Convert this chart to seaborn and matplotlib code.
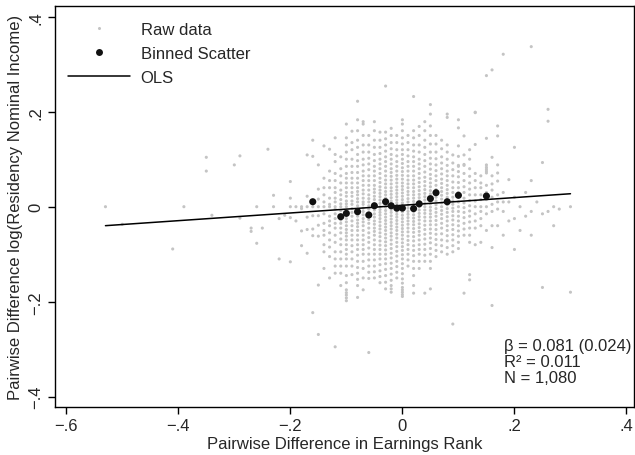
import numpy as np
import pandas as pd
import matplotlib
matplotlib.use("Agg")
import matplotlib.pyplot as plt
import seaborn as sns
from matplotlib.lines import Line2D

sns.set_theme(style="white")
plt.rcParams["font.family"] = ["Liberation Sans", "DejaVu Sans"]

# Raw pairwise differences: earnings-rank difference (hundredths) -> income differences (thousandths)
raw_columns = {
    -53: [0], -50: [-37], -41: [-89], -39: [0], -35: [104, 75], -34: [-18],
    -30: [88], -29: [107, -24], -27: [-45, -52], -26: [0, -77], -25: [-45],
    -24: [121], -23: [24, 0], -22: [-25, -110], -21: [-18],
    -20: [53, 18, 0, -23, -116], -19: [0, -30], -18: [0, -4, -51, -82],
    -17: [109, 22, 0, -22, -48, -98], -16: [140, 106, 0, -19, -47, -61, -223],
    -15: [88, 37, 16, 0, -19, -39, -62, -165, -269],
    -14: [128, 60, 40, 25, 10, 0, -15, -35, -50, -60, -80, -95, -130],
    -13: [121, 75, 55, 40, 18, 5, 0, -20, -30, -40, -55, -70, -85, -105, -150],
    -12: [145, 110, 95, 70, 55, 40, 30, 18, 10, 0, -5, -15, -25, -35, -45, -60, -75,
          -95, -110, -125, -140, -295],
    -11: [105, 80, 65, 50, 35, 25, 15, 6, 0, -8, -20, -28, -35, -45, -55, -68, -80,
          -95, -110, -125, -140, -166],
    -10: [174, 145, 130, 115, 100, 85, 70, 60, 50, 40, 30, 22, 12, 6, 0, -10, -18,
          -25, -32, -40, -48, -55, -62, -70, -80, -90, -100, -110, -125, -145, -160,
          -175, -181, -186, -192, -198],
    -9: [159, 135, 120, 100, 85, 72, 60, 50, 40, 30, 22, 12, 5, -4, -12, -20, -30,
         -40, -50, -60, -70, -82, -95, -110, -125, -143],
    -8: [222, 183, 160, 140, 125, 110, 97, 85, 72, 60, 50, 40, 32, 25, 17, 10, 2, -5,
         -12, -20, -28, -35, -42, -50, -60, -70, -80, -90, -102, -115, -128, -140,
         -153, -166, -191],
    -7: [179, 174, 150, 130, 115, 100, 88, 75, 65, 55, 45, 35, 27, 18, 10, 5, -3,
         -10, -17, -25, -32, -40, -50, -60, -70, -80, -90, -100, -115, -130, -150, -175],
    -6: [150, 130, 115, 102, 90, 78, 65, 55, 45, 35, 25, 17, 10, 2, -5, -12, -20,
         -27, -35, -45, -55, -65, -75, -87, -100, -112, -125, -138, -151, -307],
    -5: [179, 160, 140, 125, 110, 97, 85, 75, 65, 55, 45, 37, 30, 22, 15, 7, 0, -7,
         -15, -22, -30, -37, -45, -52, -60, -70, -80, -90, -100, -112, -125, -137, -150],
    -4: [157, 140, 125, 112, 100, 90, 80, 70, 60, 51, 42, 35, 28, 21, 14, 7, 0, -6,
         -12, -18, -25, -32, -40, -47, -55, -63, -72, -81, -90, -100, -110, -122,
         -135, -147, -160],
    -3: [254, 157, 143, 130, 117, 105, 95, 85, 75, 65, 56, 48, 40, 32, 25, 18, 11, 5,
         -1, -8, -15, -22, -29, -36, -43, -50, -58, -66, -74, -82, -91, -100, -110,
         -120, -132, -145, -159, -173],
    -2: [165, 150, 135, 122, 110, 100, 90, 80, 72, 64, 56, 48, 40, 33, 26, 19, 12, 6,
         0, -6, -12, -19, -26, -33, -40, -47, -55, -62, -70, -79, -88, -98, -108,
         -119, -130, -142, -155, -166, -173, -180],
    -1: [150, 135, 120, 107, 95, 85, 75, 66, 58, 50, 42, 35, 28, 21, 14, 8, 2, -4,
         -10, -16, -22, -29, -36, -43, -50, -58, -66, -75, -84, -94, -104, -115,
         -126, -138, -150],
    0: [183, 174, 160, 145, 132, 120, 110, 100, 91, 82, 74, 66, 58, 50, 43, 36, 29,
        22, 15, 8, 2, -5, -11, -18, -25, -32, -39, -46, -53, -60, -68, -76, -84, -92,
        -101, -110, -120, -130, -141, -152, -161, -170, -175, -180, -185, -189],
    1: [150, 135, 120, 107, 95, 85, 75, 65, 56, 48, 40, 32, 25, 17, 10, 3, -3, -10,
        -16, -23, -30, -37, -45, -53, -62, -71, -80, -90, -100, -112, -125],
    2: [232, 160, 145, 130, 117, 105, 95, 85, 75, 65, 56, 48, 40, 32, 25, 18, 11, 4,
        -3, -10, -17, -24, -31, -38, -46, -54, -63, -72, -82, -92, -103, -115, -130,
        -145, -166, -182],
    3: [169, 150, 130, 115, 100, 90, 80, 70, 60, 51, 42, 34, 26, 19, 12, 6, 0, -7,
        -14, -21, -28, -36, -44, -52, -60, -70, -80, -90, -100, -115, -130],
    4: [179, 160, 140, 125, 110, 97, 85, 73, 62, 53, 44, 36, 28, 21, 14, 7, 0, -7,
        -14, -22, -30, -39, -48, -58, -68, -79, -90, -102, -115, -182],
    5: [215, 195, 170, 150, 132, 115, 102, 90, 79, 68, 59, 50, 42, 34, 27, 20, 13, 6,
        -1, -8, -15, -22, -30, -38, -47, -56, -66, -76, -88, -100, -115, -130, -173],
    6: [150, 132, 115, 101, 88, 76, 65, 55, 45, 36, 28, 20, 12, 4, -4, -12, -20, -29,
        -38, -48, -58, -69, -80, -92, -105],
    7: [140, 122, 105, 92, 80, 69, 58, 49, 40, 32, 24, 16, 8, 0, -8, -16, -25, -35,
        -45, -57, -70, -82, -95],
    8: [195, 188, 130, 115, 100, 87, 75, 65, 55, 45, 36, 28, 20, 12, 4, -4, -12, -21,
        -30, -40, -50, -61, -72, -86, -100],
    9: [109, 92, 78, 65, 52, 40, 30, 20, 12, 5, -3, -10, -19, -28, -38, -48, -59,
        -70, -82, -95, -247],
    10: [183, 166, 128, 106, 87, 85, 74, 63, 51, 40, 30, 20, 10, 0, -10, -20, -30,
         -40, -51, -62, -75, -88],
    11: [149, 109, 89, 87, 70, 55, 42, 30, 18, 8, -2, -12, -23, -35, -47, -60, -182],
    12: [120, 100, 80, 64, 50, 37, 25, 13, 2, -9, -20, -32, -45, -60, -75, -143, -154],
    13: [199, 198, 131, 70, 55, 40, 25, 12, 0, -15, -30, -45, -80],
    14: [65, 50, 40, 25, 15, 0, -10, -25, -40, -75],
    15: [276, 144, 88, 83, 79, 75, 71, 45, 30, 15, 0, -15, -50],
    16: [288, 104, 65, 48, 35, 20, 5, -10, -40, -86, -208],
    17: [170, 149, 88, 71, 54, 25, 10, -5, -40],
    18: [321, 30, 10, -10, -60], 19: [57, 10, -30], 20: [125, 20, -25, -90],
    21: [0, -50], 22: [30, -20], 23: [337, 55, -10, -60], 24: [10],
    25: [93, -15, -170], 26: [205, 180, -10], 27: [0, -40], 28: [-5], 30: [0, -180],
}

# Binned means
bin_x = [-0.160, -0.110, -0.100, -0.080, -0.060, -0.050, -0.030, -0.020, -0.010,
         0.000, 0.020, 0.030, 0.050, 0.060, 0.080, 0.100, 0.150]
bin_y = [0.0105, -0.021, -0.014, -0.0105, -0.0175, 0.002, 0.0105, 0.002, -0.003,
         -0.003, -0.004, 0.006, 0.017, 0.0295, 0.0105, 0.024, 0.0225]

# Regression summary
ols_slope = 0.081
ols_se = 0.024
ols_intercept = 0.003
r_squared = 0.011
n_obs = 1080

raw = pd.DataFrame(
    [(k / 100, v / 1000) for k, ys in raw_columns.items() for v in ys],
    columns=["rank_diff", "income_diff"],
)
binned = pd.DataFrame({"rank_diff": bin_x, "income_diff": bin_y})
fit_x = np.array([raw["rank_diff"].min(), raw["rank_diff"].max()])
fit = pd.DataFrame({"rank_diff": fit_x, "income_diff": ols_intercept + ols_slope * fit_x})

W, H = 635, 456
fig = plt.figure(figsize=(W / 100, H / 100), dpi=100)
left, right, top, bottom = 54.7, 634.0, 6.7, 408.0
ax = fig.add_axes([left / W, 1 - bottom / H, (right - left) / W, (bottom - top) / H])

raw_color = "#c4c4c4"
sns.scatterplot(data=raw, x="rank_diff", y="income_diff", s=5, color=raw_color,
                edgecolor="none", linewidth=0, ax=ax, zorder=1)
sns.lineplot(data=fit, x="rank_diff", y="income_diff", color="black", linewidth=1.1,
             ax=ax, zorder=2)
sns.scatterplot(data=binned, x="rank_diff", y="income_diff", s=26, color="#111111",
                edgecolor="none", linewidth=0, ax=ax, zorder=3)

ax.set_xlim(-0.6206, 0.4134)
ax.set_ylim(-0.4217, 0.4232)
ax.set_xticks([-0.6, -0.4, -0.2, 0, 0.2, 0.4])
ax.set_xticklabels(["\u2212.6", "\u2212.4", "\u2212.2", "0", ".2", ".4"])
ax.set_yticks([-0.4, -0.2, 0, 0.2, 0.4])
ax.set_yticklabels(["\u2212.4", "\u2212.2", "0", ".2", ".4"], rotation=90, va="center")
ax.tick_params(axis="both", direction="out", length=5, width=1, color="black",
               labelsize=12, pad=3, bottom=True, left=True)
for sp in ax.spines.values():
    sp.set_color("black")
    sp.set_linewidth(1.0)

ax.set_xlabel("Pairwise Difference in Earnings Rank", fontsize=12, labelpad=2)
ax.set_ylabel("Pairwise Difference log(Residency Nominal Income)", fontsize=12, labelpad=4)

handles = [
    Line2D([], [], linestyle="none", marker="o", markersize=2.2, color=raw_color,
           markeredgewidth=0, label="Raw data"),
    Line2D([], [], linestyle="none", marker="o", markersize=5, color="#111111",
           markeredgewidth=0, label="Binned Scatter"),
    Line2D([], [], color="black", linewidth=1.1, label="OLS"),
]
ax.legend(handles=handles, loc="upper left", bbox_to_anchor=(0.023, 0.960),
          frameon=False, fontsize=12, handlelength=3.7, handletextpad=0.65,
          labelspacing=0.54, borderaxespad=0, borderpad=0)

stats = (f"\u03b2 = {ols_slope:.3f} ({ols_se:.3f})\n"
         f"R\u00b2 = {r_squared:.3f}\n"
         f"N = {n_obs:,}")
ax.text(0.181, -0.277, stats, fontsize=12, va="top", ha="left", linespacing=1.07)

fig.savefig("out.png", dpi=100, facecolor="white")
